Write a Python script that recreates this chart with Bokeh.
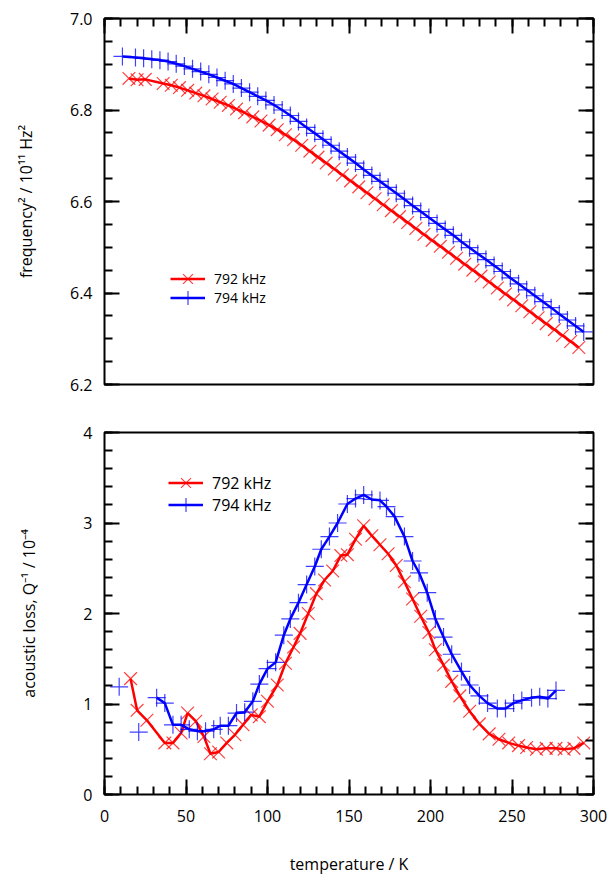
from bokeh.plotting import figure
from bokeh.layouts import column
from bokeh.models import (LinearAxis, SingleIntervalTicker, Range1d, Legend,
                          LegendItem, PrintfTickFormatter,
                          CustomJSTickFormatter)
from bokeh.embed import file_html
from bokeh.resources import INLINE

FONT = "Open Sans"
RED = "#ff0000"
BLUE = "#0000ff"

# ---------------- top panel: frequency^2 / 1e11 Hz^2 ----------------
t_f_792 = [15, 20, 25, 36, 41, 46, 51, 56, 61, 66, 71, 76, 81, 86, 91, 96,
           101, 106, 111, 116, 121, 126, 131, 136, 141, 146, 151, 156, 161,
           166, 171, 176, 181, 186, 191, 196, 201, 206, 211, 216, 221, 226,
           231, 236, 241, 246, 251, 256, 261, 266, 271, 276, 281, 286, 291]
f2_792 = [6.869, 6.866, 6.867, 6.858, 6.854, 6.849, 6.843, 6.837, 6.831,
          6.824, 6.817, 6.810, 6.802, 6.794, 6.785, 6.776, 6.767, 6.757,
          6.746, 6.735, 6.723, 6.710, 6.697, 6.684, 6.671, 6.658, 6.645,
          6.632, 6.619, 6.606, 6.593, 6.580, 6.567, 6.554, 6.541, 6.528,
          6.515, 6.502, 6.489, 6.476, 6.463, 6.450, 6.437, 6.424, 6.411,
          6.398, 6.385, 6.372, 6.359, 6.346, 6.333, 6.320, 6.307, 6.294,
          6.281]

t_f_794 = [11, 19, 24, 29, 34, 39, 44, 49, 54, 59, 64, 69, 74, 79, 84, 89,
           94, 99, 104, 109, 114, 119, 124, 129, 134, 139, 144, 149, 154,
           159, 164, 169, 174, 179, 184, 189, 194, 199, 204, 209, 214, 219,
           224, 229, 234, 239, 244, 249, 254, 259, 264, 269, 274, 279, 284,
           289, 294]
f2_794 = [6.917, 6.915, 6.913, 6.911, 6.909, 6.906, 6.901, 6.896, 6.890,
          6.884, 6.878, 6.871, 6.864, 6.857, 6.848, 6.839, 6.830, 6.821,
          6.811, 6.800, 6.788, 6.775, 6.762, 6.749, 6.736, 6.723, 6.710,
          6.697, 6.684, 6.670, 6.657, 6.644, 6.631, 6.618, 6.605, 6.591,
          6.578, 6.565, 6.552, 6.539, 6.526, 6.512, 6.499, 6.486, 6.473,
          6.460, 6.447, 6.433, 6.420, 6.407, 6.394, 6.381, 6.368, 6.354,
          6.341, 6.328, 6.315]

# ---------------- bottom panel: acoustic loss / 1e-4 ----------------
t_q_792 = [16, 20, 26, 37, 42, 47, 51, 56, 61, 65, 70, 75, 80, 85, 90, 95,
           100, 106, 111, 116, 120, 125, 130, 135, 140, 145, 149, 154, 159,
           164, 169, 174, 179, 184, 189, 194, 199, 203, 208, 213, 218, 224,
           230, 236, 242, 248, 254, 259, 265, 271, 277, 282, 288, 294]
q_792 = [1.28, 0.93, 0.82, 0.57, 0.57, 0.68, 0.90, 0.81, 0.64, 0.45, 0.47,
         0.57, 0.66, 0.77, 0.88, 0.86, 1.03, 1.21, 1.45, 1.63, 1.78, 2.00,
         2.22, 2.37, 2.47, 2.64, 2.65, 2.82, 2.97, 2.86, 2.76, 2.66, 2.53,
         2.35, 2.16, 1.97, 1.79, 1.60, 1.43, 1.25, 1.09, 0.92, 0.78, 0.67,
         0.61, 0.57, 0.54, 0.52, 0.50, 0.51, 0.51, 0.50, 0.51, 0.57]

t_q_794 = [9, 21, 32, 37, 42, 47, 52, 57, 62, 67, 71, 76, 81, 86, 91, 95,
           100, 105, 110, 114, 119, 124, 129, 133, 138, 143, 149, 154, 159,
           164, 169, 173, 178, 184, 189, 193, 198, 203, 208, 213, 219, 224,
           230, 235, 241, 246, 251, 256, 262, 267, 272, 277]
q_794 = [1.19, 0.69, 1.07, 1.01, 0.77, 0.77, 0.72, 0.70, 0.70, 0.72, 0.76,
         0.76, 0.90, 0.91, 1.03, 1.22, 1.39, 1.46, 1.76, 1.94, 2.12, 2.32,
         2.52, 2.71, 2.85, 3.00, 3.21, 3.27, 3.31, 3.26, 3.25, 3.18, 3.07,
         2.85, 2.58, 2.45, 2.23, 1.94, 1.74, 1.55, 1.36, 1.21, 1.09, 1.01,
         0.95, 0.95, 1.01, 1.04, 1.07, 1.08, 1.06, 1.15]

labels = ["792 kHz", "794 kHz"]

EMPTY = CustomJSTickFormatter(code="return '';")


def style_axis(ax, interval, minor, show_labels=True):
    ax.ticker = SingleIntervalTicker(interval=interval, num_minor_ticks=minor)
    ax.axis_line_color = None
    ax.major_tick_in = 15
    ax.major_tick_out = 0
    ax.minor_tick_in = 8
    ax.minor_tick_out = 0
    ax.major_tick_line_color = "black"
    ax.minor_tick_line_color = "black"
    ax.major_tick_line_width = 2
    ax.minor_tick_line_width = 2
    ax.major_label_text_font = FONT
    ax.major_label_text_color = "black"
    ax.major_label_text_font_size = "16px"
    ax.axis_label_text_font = FONT
    ax.axis_label_text_font_style = "normal"
    ax.axis_label_text_font_size = "16px"
    ax.axis_label_text_color = "black"
    if not show_labels:
        ax.formatter = EMPTY
        ax.major_label_standoff = 0


def base_style(p):
    p.xgrid.grid_line_color = None
    p.ygrid.grid_line_color = None
    p.outline_line_color = "black"
    p.outline_line_width = 2
    p.outline_line_alpha = 1.0
    p.background_fill_color = "white"
    p.border_fill_color = "white"


def one_legend(p, label, rends, x, y, size, lh):
    leg = Legend(items=[LegendItem(label=label, renderers=rends)],
                 location=(x, y), padding=0, margin=0, spacing=0,
                 glyph_width=35, glyph_height=35, label_height=lh,
                 label_standoff=9, label_text_font=FONT,
                 label_text_font_size=size, label_text_color="black",
                 border_line_color=None, background_fill_alpha=0)
    p.add_layout(leg)


# ---------- top figure ----------
p1 = figure(width=609, height=404, x_range=Range1d(0, 300),
            y_range=Range1d(6.2, 7.0), x_axis_location="above",
            output_backend="svg", toolbar_location=None,
            min_border_left=104, min_border_right=16, min_border_top=18,
            min_border_bottom=20)
base_style(p1)
style_axis(p1.xaxis[0], 50, 5, show_labels=False)
style_axis(p1.yaxis[0], 0.2, 4)
p1.yaxis[0].formatter = PrintfTickFormatter(format="%.1f")
p1.yaxis[0].major_label_standoff = 12
p1.yaxis[0].axis_label = "frequency² / 10¹¹ Hz²"
p1.yaxis[0].axis_label_standoff = 30
r1 = LinearAxis()
style_axis(r1, 0.2, 4, show_labels=False)
p1.add_layout(r1, "right")

l1a = p1.line(t_f_792, f2_792, line_color=RED, line_width=2.5)
m1a = p1.scatter(t_f_792, f2_792, marker="x", size=18, line_color=RED,
                 line_width=1.2, line_alpha=0.75)
l1b = p1.line(t_f_794, f2_794, line_color=BLUE, line_width=2.5)
m1b = p1.scatter(t_f_794, f2_794, marker="cross", size=18, line_color=BLUE,
                 line_width=1.2, line_alpha=0.75)

one_legend(p1, labels[0], [l1a, m1a], 66, 88, "14px", 17)
one_legend(p1, labels[1], [l1b, m1b], 66, 69, "14px", 17)

# ---------- bottom figure ----------
p2 = figure(width=609, height=473, x_range=Range1d(0, 300),
            y_range=Range1d(0, 4), output_backend="svg",
            toolbar_location=None,
            min_border_left=104, min_border_right=16, min_border_top=28,
            min_border_bottom=80)
base_style(p2)
style_axis(p2.xaxis[0], 50, 5)
p2.xaxis[0].major_label_standoff = 15
p2.xaxis[0].axis_label = "temperature / K"
p2.xaxis[0].axis_label_standoff = 28
style_axis(p2.yaxis[0], 1, 5)
p2.yaxis[0].major_label_standoff = 12
p2.yaxis[0].axis_label = "acoustic loss, Q⁻¹ / 10⁻⁴"
p2.yaxis[0].axis_label_standoff = 40
r2 = LinearAxis()
style_axis(r2, 1, 5, show_labels=False)
p2.add_layout(r2, "right")

l2a = p2.line(t_q_792, q_792, line_color=RED, line_width=2.5)
m2a = p2.scatter(t_q_792, q_792, marker="x", size=18, line_color=RED,
                 line_width=1.2, line_alpha=0.75)
l2b = p2.line(t_q_794[2:], q_794[2:], line_color=BLUE, line_width=2.5)
m2b = p2.scatter(t_q_794, q_794, marker="cross", size=18, line_color=BLUE,
                 line_width=1.2, line_alpha=0.75)

one_legend(p2, labels[0], [l2a, m2a], 64, 294, "16px", 20)
one_legend(p2, labels[1], [l2b, m2b], 64, 272, "16px", 20)

layout = column(p1, p2, spacing=0)
open("out.html", "w").write(file_html(layout, INLINE))
